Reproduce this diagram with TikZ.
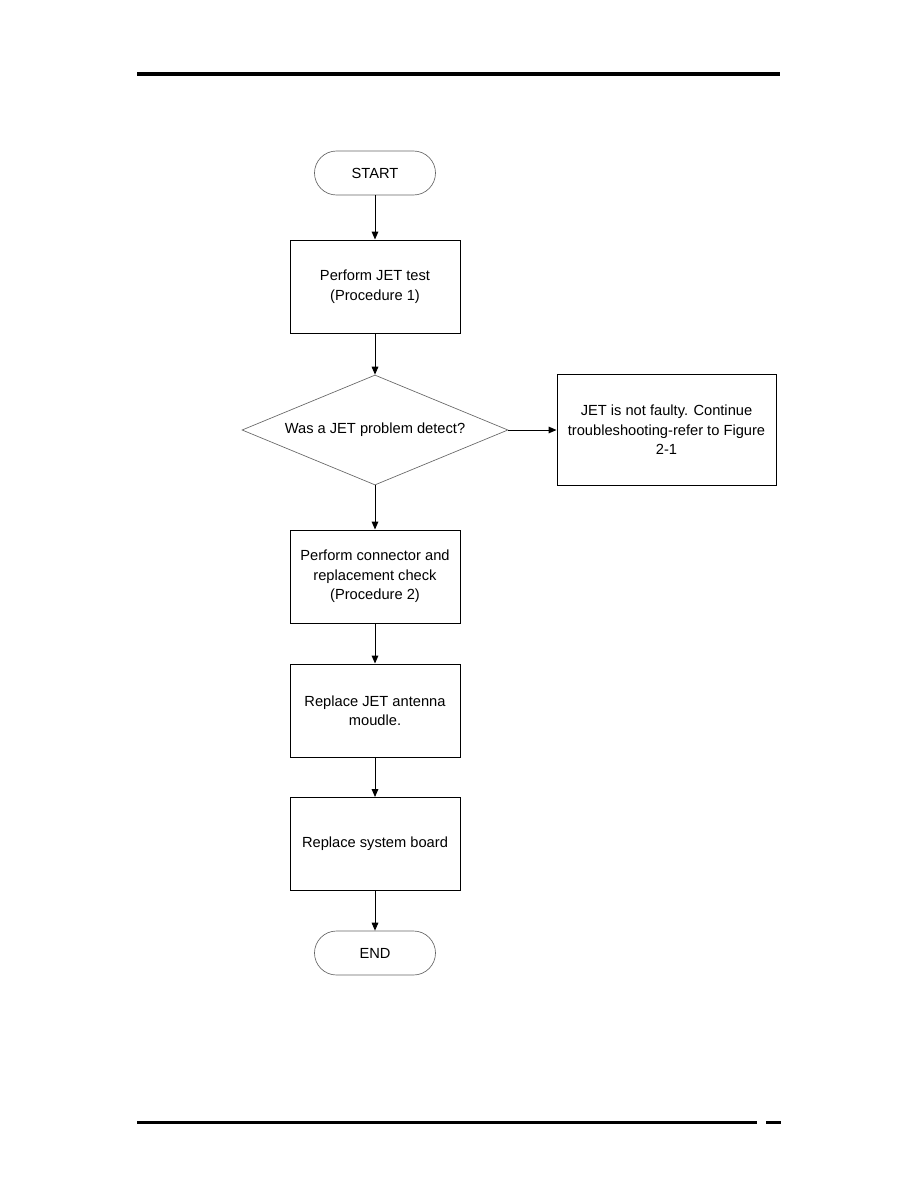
\documentclass[tikz,border=0pt]{standalone}
\usepackage{fontspec}
\setsansfont{Liberation Sans}
\usepackage{tikz}
\usetikzlibrary{shapes.geometric}
\usetikzlibrary{arrows.meta}
\usetikzlibrary{positioning}

\begin{document}
\begin{tikzpicture}[
  x=0.75pt,y=-0.75pt,
  every node/.style={font=\sffamily\fontsize{11}{14.6}\selectfont,align=center,inner sep=0pt},
  term/.style={rectangle,rounded corners=16.5pt,draw=black!60,line width=0.5pt,minimum width=90.75pt,minimum height=33pt},
  procbox/.style={rectangle,draw,line width=0.75pt,minimum width=127.5pt,minimum height=69.75pt},
  decide/.style={diamond,draw=black!60,line width=0.5pt,shape aspect=2.42,minimum width=199.5pt,minimum height=82.5pt},
  sidebox/.style={rectangle,draw,line width=0.75pt,minimum width=164.25pt,minimum height=83.25pt},
  flow/.style={line width=0.75pt,-{Triangle[length=6pt,width=5pt]}}
]
\useasboundingbox (0,0) rectangle (918,1188);

% page rules
\fill (137,72) rectangle (780,76);
\fill (137,1120.5) rectangle (757,1123.5);
\fill (766,1120.5) rectangle (781,1123.5);

\node[term] (start) at (375,173) {START};
\node[procbox] (jet) at (375,286.5) {Perform JET test\\(Procedure 1)};
\node[decide] (ask) at (375,430) {Was a JET problem detect?};
\node[sidebox] (notfaulty) at (666.5,430) {JET is not faulty. Continue\\troubleshooting-refer to Figure\\2-1};
\node[procbox] (check) at (375,576.5) {Perform connector and\\replacement check\\(Procedure 2)};
\node[procbox] (antenna) at (375,710.5) {Replace JET antenna\\moudle.};
\node[procbox] (board) at (375,844) {Replace system board};
\node[term] (end) at (375,953) {END};

\draw[flow] (start) -- (jet);
\draw[flow] (jet) -- (ask);
\draw[flow] (ask.east) -- (notfaulty.west);
\draw[flow] (ask) -- (check);
\draw[flow] (check) -- (antenna);
\draw[flow] (antenna) -- (board);
\draw[flow] (board) -- (end);
\end{tikzpicture}
\end{document}
